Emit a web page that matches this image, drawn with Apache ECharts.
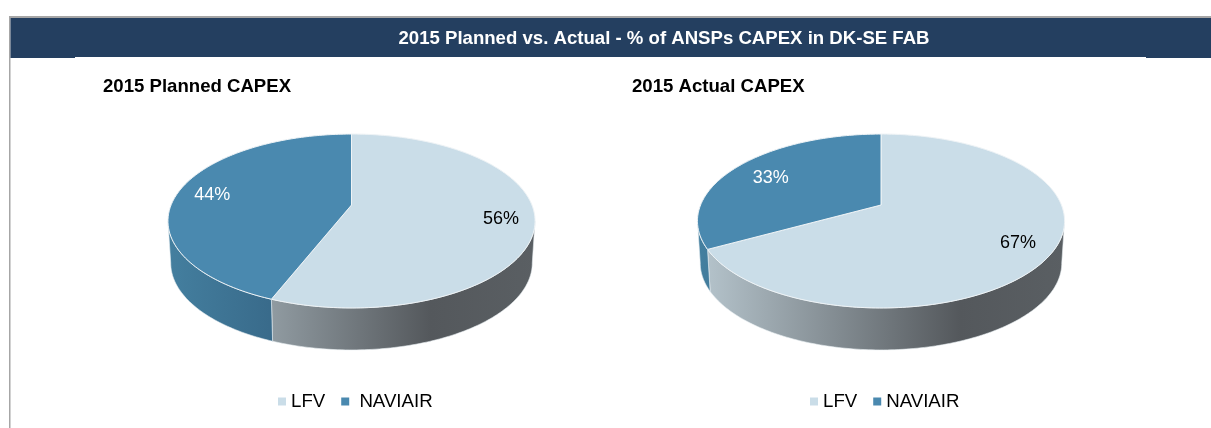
<!DOCTYPE html>
<html>
<head>
<meta charset="utf-8">
<title>2015 Planned vs. Actual CAPEX</title>
<script src="https://cdn.jsdelivr.net/npm/echarts@6/dist/echarts.min.js"></script>
<style>
  html, body { margin: 0; padding: 0; background: #fff; }
  #chart { width: 1211px; height: 428px; }
</style>
</head>
<body>
<div id="chart"></div>
<script>
const categories = ['LFV', 'NAVIAIR']
const plannedValues = [56, 44]
const actualValues = [67, 33]
const mainTitle = '2015 Planned vs. Actual - % of ANSPs CAPEX in DK-SE FAB'
const plannedTitle = '2015 Planned CAPEX'
const actualTitle = '2015 Actual CAPEX'

const FONT = '"Liberation Sans", Arial, sans-serif'
const topColors = ['#cadde8', '#4a89af']
const labelColors = ['#000', '#fff']
const wallStops = [
  [{ offset: 0, color: '#b7c6ce' }, { offset: 0.715, color: '#54585c' }, { offset: 1, color: '#5a5f63' }],
  [{ offset: 0, color: '#447f9f' }, { offset: 0.4, color: '#346282' }, { offset: 1, color: '#1f3c54' }]
]

// 3D 饼图：把单位圆做透视投影，圆心不在椭圆中心
const cy = 205
const halfX = 180.4
const halfY = 84
const persp = 0.184
const depth = 42
const bottomScale = 0.985
const rad = Math.PI / 180
const sideAngle = Math.acos(-persp) / rad // 可见侧面的起点

function project(cx, deg, r) {
  const u = r * Math.sin(deg * rad)
  const v = r * Math.cos(deg * rad)
  const w = 1 + persp * v
  return [cx + halfX * u / w, cy - halfY * v / w]
}

function arc(cx, from, to) {
  const pts = []
  const n = Math.max(2, Math.ceil(to - from))
  for (let i = 0; i <= n; i++) pts.push(project(cx, from + (to - from) * i / n, 1))
  return pts
}

function sliceSeries(pie, idx) {
  const values = pie.values
  const cx = pie.cx
  const total = values.reduce((a, b) => a + b, 0)
  const before = values.slice(0, idx).reduce((a, b) => a + b, 0)
  const from = before / total * 360
  const to = (before + values[idx]) / total * 360
  return {
    type: 'custom',
    name: categories[idx],
    coordinateSystem: 'none',
    silent: true,
    itemStyle: { color: topColors[idx] },
    data: [values[idx]],
    renderItem: function (params, api) {
      const children = []
      const wallFrom = Math.max(from, sideAngle)
      const wallTo = Math.min(to, 360 - sideAngle)
      if (wallTo > wallFrom) {
        const upper = arc(cx, wallFrom, wallTo)
        const lower = upper.map(p => [cx + (p[0] - cx) * bottomScale, p[1] + depth]).reverse()
        children.push({
          type: 'polygon',
          shape: { points: upper.concat(lower) },
          style: {
            fill: new echarts.graphic.LinearGradient(cx - 183.5, 0, cx + 183.5, 0, wallStops[idx], true),
            stroke: '#e8eef2',
            lineWidth: 0.6
          }
        })
      }
      children.push({
        type: 'polygon',
        shape: { points: [[cx, cy]].concat(arc(cx, from, to)) },
        style: { fill: topColors[idx], stroke: '#eef3f6', lineWidth: 1 }
      })
      const pos = project(cx, (from + to) / 2, 0.82)
      children.push({
        type: 'text',
        style: {
          x: pos[0] + pie.labelShift[idx][0],
          y: pos[1] + pie.labelShift[idx][1],
          text: Math.round(api.value(0)) + '%',
          align: 'center',
          verticalAlign: 'middle',
          fill: labelColors[idx],
          font: '18px ' + FONT
        }
      })
      return { type: 'group', children: children }
    }
  }
}

const pies = [
  { values: plannedValues, cx: 351.5, labelShift: [[0, 1], [2, 3]] },
  { values: actualValues, cx: 881, labelShift: [[-1, 0], [8, 6]] }
]

const series = []
pies.forEach(pie => {
  categories.forEach((c, i) => series.push(sliceSeries(pie, i)))
})

function legendAt(left, pad) {
  return {
    left: left,
    top: 392,
    padding: 0,
    icon: 'rect',
    itemWidth: 8,
    itemHeight: 8,
    itemGap: 16,
    selectedMode: false,
    data: categories,
    formatter: name => name === 'NAVIAIR' ? pad + name : name,
    textStyle: { color: '#000', fontFamily: FONT, fontSize: 18.67, padding: 0 }
  }
}

function titleAt(text, left, top, color, align) {
  return {
    text: text,
    left: left,
    top: top,
    padding: 0,
    textAlign: align,
    textVerticalAlign: 'middle',
    textStyle: { color: color, fontFamily: FONT, fontSize: 18.6, fontWeight: 'bold' }
  }
}

const chart = echarts.init(document.getElementById('chart'), null, { renderer: 'canvas' })
chart.setOption({
  backgroundColor: '#fff',
  animation: false,
  title: [
    titleAt(mainTitle, 664, 39, '#fff', 'center'),
    titleAt(plannedTitle, 103, 87, '#000', 'left'),
    titleAt(actualTitle, 632, 87, '#000', 'left')
  ],
  legend: [legendAt(278, ' '), legendAt(810, '')],
  graphic: [
    // 外框和标题栏
    { type: 'rect', z: -1, shape: { x: 9, y: 16, width: 1202, height: 2 }, style: { fill: '#a6a6a6' } },
    { type: 'rect', z: -1, shape: { x: 9, y: 16, width: 1.5, height: 412 }, style: { fill: '#a6a6a6' } },
    { type: 'rect', z: -1, shape: { x: 10.5, y: 18, width: 1200.5, height: 39 }, style: { fill: '#243f60' } },
    { type: 'rect', z: -1, shape: { x: 10.5, y: 57, width: 64.5, height: 1 }, style: { fill: '#243f60' } },
    { type: 'rect', z: -1, shape: { x: 1146, y: 57, width: 65, height: 1 }, style: { fill: '#243f60' } }
  ],
  series: series
})
</script>
</body>
</html>
